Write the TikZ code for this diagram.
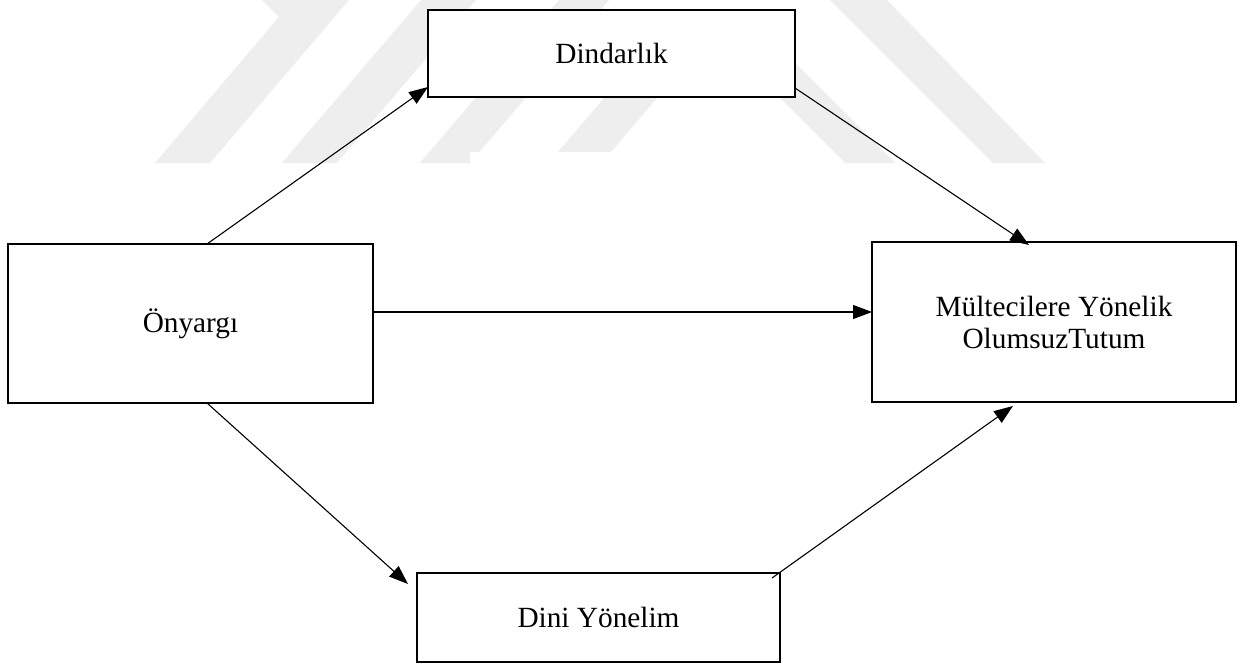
\documentclass[tikz,border=0pt]{standalone}
\usepackage{fontspec}
\setmainfont{Liberation Serif}
\usetikzlibrary{arrows.meta}
\definecolor{wmark}{HTML}{EEEEEE}
\begin{document}
\begin{tikzpicture}[x=1pt,y=-1pt,
  box/.style={draw=black,line width=2.7pt,fill=white,inner sep=0pt,outer sep=0pt,
    align=center,font=\fontsize{29.3}{32}\selectfont},
  link/.style={line width=1.1pt,-{Triangle[length=19pt,width=14pt]}},
  wm/.style={fill=wmark,draw=none}]
\useasboundingbox (0,0) rectangle (1243,664);
\fill[white] (0,0) rectangle (1243,664);
% watermark
\path[wm] (155,163) -- (210,163) -- (349,0) -- (262,0) -- (279,17) -- cycle;
\path[wm] (282,163) -- (337,163) -- (476,0) -- (421,0) -- cycle;
\path[wm] (420,163) -- (470,163) -- (609,0) -- (559,0) -- cycle;
\path[wm] (558,152) -- (611,152) -- (687,63) -- (634,63) -- cycle;
\fill[white] (470,152) rectangle (615,166);
\path[wm] (830,0) -- (887,0) -- (1045,163) -- (993,163) -- cycle;
\path[wm] (692,10) -- (742,10) -- (895,163) -- (845,163) -- cycle;
% boxes
\node[box,minimum width=367pt,minimum height=87pt] (D) at (611.5,53.5) {Dindarlık};
\node[box,minimum width=365pt,minimum height=159pt] (O) at (190.5,323.5) {Önyargı};
\node[box,minimum width=364pt,minimum height=160pt] (M) at (1054,322) {Mültecilere Yönelik\\OlumsuzTutum};
\node[box,minimum width=363pt,minimum height=89pt] (N) at (598.5,617.5) {Dini Yönelim};
% connectors
\draw[link] ([xshift=16.5pt]O.north) -- ([yshift=10pt]D.south west);
\draw[link] ([yshift=9pt]D.south east) -- ([xshift=-25pt,yshift=-3pt]M.north);
\draw[link] ([yshift=11.5pt]O.east) -- ([yshift=10pt]M.west);
\draw[link] ([xshift=16.5pt]O.south) -- ([xshift=-9pt,yshift=-11pt]N.north west);
\draw[link] ([xshift=-8pt,yshift=-5pt]N.north east) -- ([xshift=-41pt,yshift=-4pt]M.south);
\end{tikzpicture}
\end{document}
